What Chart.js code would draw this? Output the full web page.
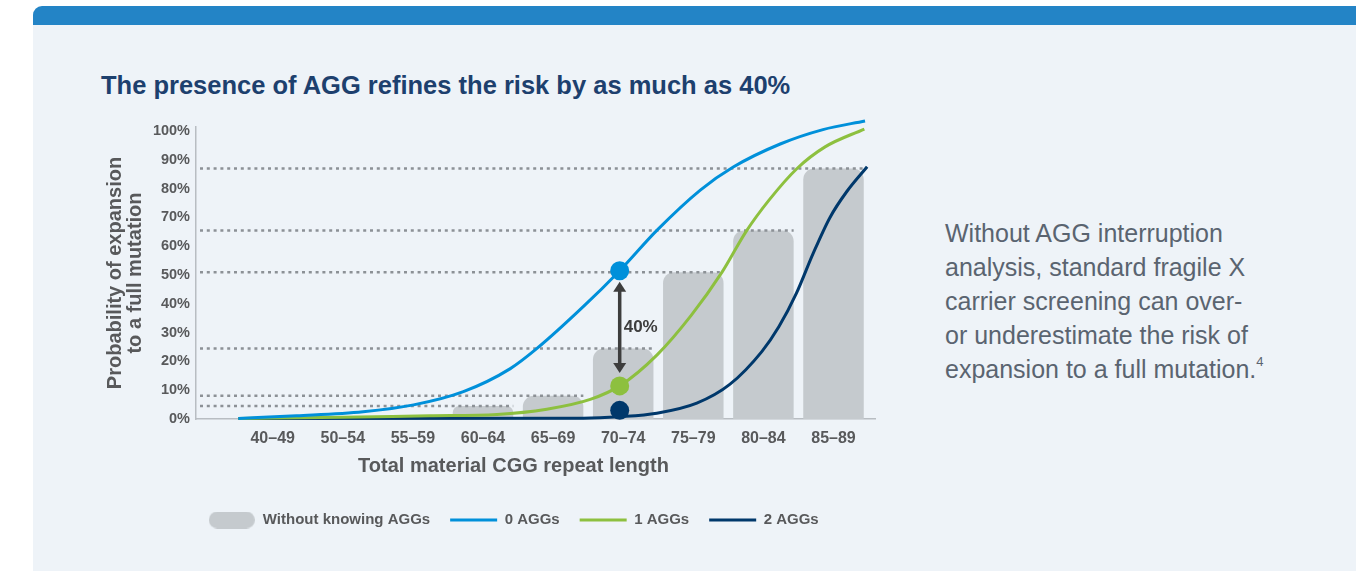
<!DOCTYPE html>
<html>
<head>
<meta charset="utf-8">
<title>AGG interruption risk</title>
<script src="https://cdn.jsdelivr.net/npm/chart.js@4.4.1/dist/chart.umd.min.js"></script>
<style>
  html, body { margin: 0; padding: 0; background: #ffffff; width: 1356px; height: 571px; overflow: hidden; }
  .panel { position: absolute; left: 33px; top: 6px; width: 1323px; height: 565px; background: #EEF3F8; border-top-left-radius: 9px; overflow: hidden; }
  .band { position: absolute; left: 0; top: 0; right: 0; height: 19px; background: #2384C6; }
  h1 { position: absolute; left: 101px; top: 70px; margin: 0; font: bold 25.5px/30px "Liberation Sans", Arial, sans-serif; color: #1D406E; white-space: nowrap; }
  .note { position: absolute; left: 945px; top: 216px; margin: 0; font: 25px/34.1px "Liberation Sans", Arial, sans-serif; color: #5A6470; white-space: nowrap; }
  .note sup { font-size: 13px; line-height: 0; vertical-align: 12px; }
  canvas { position: absolute; left: 0; top: 0; }
</style>
</head>
<body>
<div class="panel"><div class="band"></div></div>
<h1>The presence of AGG refines the risk by as much as 40%</h1>
<p class="note">Without AGG interruption<br>analysis, standard fragile X<br>carrier screening can over-<br>or underestimate the risk of<br>expansion to a full mutation.<sup>4</sup></p>
<canvas id="chart" width="930" height="571"></canvas>
<script>
// Repeat-length groups on the x axis
const categories = ['40–49', '50–54', '55–59', '60–64', '65–69', '70–74', '75–79', '80–84', '85–89'];
const yTicks = [0, 10, 20, 30, 40, 50, 60, 70, 80, 90, 100];
const seriesNames = ['Without knowing AGGs', '0 AGGs', '1 AGGs', '2 AGGs'];

// Probability (%) per group when AGG count is unknown
const withoutAGG = [0, 0, 0, 4.5, 8.1, 24.5, 51, 65.5, 87];

// Risk curves by number of AGG interruptions (x in group units, y in %)
const agg0X = [-0.49, 0.34, 1.29, 2.01, 2.72, 3.39, 3.77, 4.43, 4.95, 5.48, 6.10, 6.57, 7.24, 7.85, 8.45];
const agg0Y = [0.2, 1.1, 2.5, 4.9, 9.5, 17.5, 24.5, 39.0, 51.5, 65.5, 79.5, 87.5, 95.5, 100.5, 103.5];

const agg1X = [-0.49, 1.0, 2.24, 3.2, 3.91, 4.53, 4.95, 5.48, 5.97, 6.41, 6.75, 7.08, 7.48, 7.88, 8.44];
const agg1Y = [0.2, 0.6, 1.15, 1.6, 3.4, 6.8, 11.5, 22.2, 36.0, 51.0, 65.0, 76.0, 87.0, 94.5, 100.7];

const agg2X = [-0.49, 4.43, 4.95, 5.48, 6.05, 6.52, 6.98, 7.22, 7.47, 7.71, 7.95, 8.19, 8.48];
const agg2Y = [0.2, 0.3, 0.8, 2.0, 5.5, 12.0, 23.5, 32.0, 43.6, 57.5, 70.0, 79.0, 87.6];

// Highlighted points inside the 70–74 group (0, 1 and 2 AGGs)
const highlightX = 4.95;
const highlightValues = [51.5, 11.5, 3];

const FONT = '"Liberation Sans", Arial, sans-serif';
const TEXT_GREY = '#58595B';
const BAR_GREY = '#C5CACE';
const COLORS = ['#0090DA', '#8DC03F', '#00386B'];

Chart.defaults.font.family = FONT;

const toPoints = (xs, ys) => xs.map((x, i) => ({ x, y: ys[i] }));

// Rounded swatch used as the legend symbol of the bar series
const pill = document.createElement('canvas');
pill.width = 46; pill.height = 17;
(function () {
  const c = pill.getContext('2d');
  const w = 46, h = 17, r = 8.5;
  c.fillStyle = BAR_GREY;
  c.beginPath();
  c.moveTo(r, 0); c.lineTo(w - r, 0); c.arc(w - r, r, r, -Math.PI / 2, Math.PI / 2);
  c.lineTo(r, h); c.arc(r, r, r, Math.PI / 2, Math.PI * 1.5); c.closePath(); c.fill();
})();

// Dotted guide from the y axis to the top of each bar
const barGuides = {
  id: 'barGuides',
  afterDatasetDraw(chart, args) {
    if (args.meta.type !== 'bar') return;
    const ctx = chart.ctx;
    const left = chart.chartArea.left + 4;
    ctx.save();
    ctx.setLineDash([3, 3.8]);
    ctx.lineWidth = 2.5;
    ctx.strokeStyle = '#8C9196';
    args.meta.data.forEach((bar, i) => {
      if (!withoutAGG[i]) return;
      ctx.beginPath();
      ctx.moveTo(left, bar.y);
      ctx.lineTo(bar.x + bar.width / 2, bar.y);
      ctx.stroke();
    });
    ctx.restore();
  }
};

// Double-headed arrow between the 0 AGG and 1 AGG points with the difference label
const diffArrow = {
  id: 'diffArrow',
  afterDatasetsDraw(chart) {
    const pts = chart.getDatasetMeta(4).data;
    const a = pts[0], b = pts[1];
    const ctx = chart.ctx;
    const x = a.x;
    const y1 = a.y + 11, y2 = b.y - 13;
    const head = 10, half = 6.5;
    ctx.save();
    ctx.fillStyle = ctx.strokeStyle = '#3D3D3D';
    ctx.lineWidth = 3.5;
    ctx.beginPath(); ctx.moveTo(x, y1 + head - 1); ctx.lineTo(x, y2 - head + 1); ctx.stroke();
    ctx.beginPath(); ctx.moveTo(x, y1); ctx.lineTo(x - half, y1 + head); ctx.lineTo(x + half, y1 + head); ctx.closePath(); ctx.fill();
    ctx.beginPath(); ctx.moveTo(x, y2); ctx.lineTo(x - half, y2 - head); ctx.lineTo(x + half, y2 - head); ctx.closePath(); ctx.fill();
    ctx.font = 'bold 17px ' + FONT;
    ctx.textAlign = 'left';
    ctx.textBaseline = 'middle';
    ctx.fillText(Math.round(highlightValues[0] - highlightValues[1]) + '%', x + 4, (y1 + y2) / 2);
    ctx.restore();
  }
};

const lineSeries = (i, xs, ys) => ({
  type: 'line',
  label: seriesNames[i + 1],
  data: toPoints(xs, ys),
  borderColor: COLORS[i],
  backgroundColor: COLORS[i],
  borderWidth: 3,
  pointRadius: 0,
  cubicInterpolationMode: 'monotone',
  fill: false,
  clip: false,
  order: i + 1
});

new Chart(document.getElementById('chart'), {
  type: 'bar',
  data: {
    datasets: [
      {
        type: 'bar',
        label: seriesNames[0],
        data: withoutAGG.map((v, i) => ({ x: i, y: v })),
        backgroundColor: BAR_GREY,
        borderRadius: { topLeft: 11, topRight: 11, bottomLeft: 0, bottomRight: 0 },
        barPercentage: 0.863,
        categoryPercentage: 1,
        order: 4
      },
      lineSeries(0, agg0X, agg0Y),
      lineSeries(1, agg1X, agg1Y),
      lineSeries(2, agg2X, agg2Y),
      {
        type: 'line',
        label: 'highlight',
        data: highlightValues.map(v => ({ x: highlightX, y: v })),
        showLine: false,
        pointRadius: 9.5,
        pointBorderWidth: 0,
        pointBackgroundColor: COLORS,
        pointBorderColor: COLORS,
        clip: false,
        order: 0
      }
    ]
  },
  options: {
    responsive: false,
    animation: false,
    devicePixelRatio: 1,
    events: [],
    layout: { padding: { left: 152, right: 55, top: 127, bottom: 33.5 } },
    scales: {
      x: {
        type: 'linear',
        min: -1.094,
        max: 8.592,
        bounds: 'data',
        offset: false,
        afterBuildTicks: s => { s.ticks = categories.map((c, i) => ({ value: i })); },
        afterFit: s => { s.height = 36; },
        grid: { display: false, drawTicks: false },
        border: { display: true, color: '#B8BDC2', width: 1.5 },
        ticks: {
          padding: 10,
          autoSkip: false,
          maxRotation: 0,
          color: TEXT_GREY,
          font: { size: 16, weight: 'bold' },
          callback: v => categories[v] ?? ''
        }
      },
      y: {
        min: 0,
        max: 101.4,
        bounds: 'data',
        afterBuildTicks: s => { s.ticks = yTicks.map(v => ({ value: v })); },
        afterFit: s => { s.width = 44; },
        grid: { display: false, drawTicks: false },
        border: { display: true, color: '#B8BDC2', width: 1.5 },
        ticks: {
          padding: 6,
          color: TEXT_GREY,
          font: { size: 14.5, weight: 'bold' },
          callback: v => v + '%'
        },
        title: {
          display: true,
          text: ['Probability of expansion', 'to a full mutation'],
          color: TEXT_GREY,
          font: { size: 20, weight: 'bold', lineHeight: 1.0 },
          padding: { top: -47, bottom: 0 }
        }
      }
    },
    plugins: {
      tooltip: { enabled: false },
      title: {
        display: true,
        position: 'bottom',
        weight: 500,
        text: 'Total material CGG repeat length',
        color: TEXT_GREY,
        font: { size: 20, weight: 'bold', lineHeight: 1.2 },
        padding: { top: -1, bottom: 14.5 }
      },
      legend: {
        display: true,
        position: 'bottom',
        align: 'center',
        labels: {
          usePointStyle: true,
          pointStyleWidth: 47,
          padding: 20,
          color: TEXT_GREY,
          font: { size: 15, weight: 'bold' },
          generateLabels: chart => chart.data.datasets.slice(0, 4).map((ds, i) => ({
            text: ds.label,
            datasetIndex: i,
            hidden: false,
            pointStyle: i === 0 ? pill : 'line',
            fillStyle: ds.backgroundColor,
            strokeStyle: i === 0 ? 'rgba(0,0,0,0)' : ds.borderColor,
            lineWidth: i === 0 ? 0 : 3,
            fontColor: TEXT_GREY
          }))
        }
      }
    }
  },
  plugins: [barGuides, diffArrow]
});
</script>
</body>
</html>
